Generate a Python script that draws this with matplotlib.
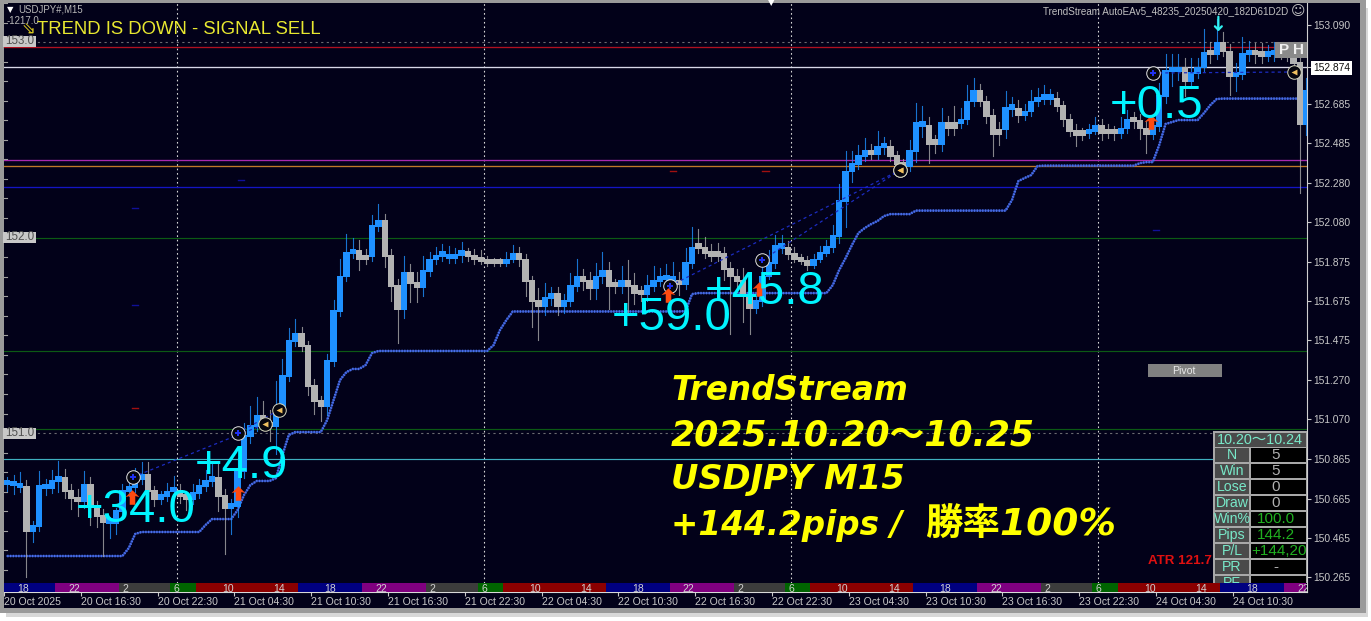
import matplotlib
matplotlib.use("Agg")
import matplotlib.pyplot as plt
from matplotlib.patches import Rectangle
from matplotlib.path import Path
from matplotlib.transforms import Affine2D

# ---------- data (prices, one value every two M15 bars) ----------
CLOSES = [
150.744,150.739,150.729,150.504,150.530,150.734,150.724,150.760,150.775,150.709,
150.673,150.657,150.744,150.632,150.581,150.550,150.545,150.606,150.709,150.729,
150.770,150.791,150.709,150.668,150.683,150.704,150.709,150.683,150.668,150.698,
150.734,150.760,150.775,150.683,150.622,150.632,150.811,150.990,151.041,151.092,
151.056,151.041,151.128,151.297,151.476,151.512,151.450,151.246,151.169,151.143,
151.374,151.629,151.808,151.926,151.936,151.895,151.911,152.064,152.090,151.911,
151.757,151.640,151.824,151.773,151.752,151.834,151.895,151.911,151.916,151.900,
151.916,151.926,151.911,151.895,151.885,151.875,151.875,151.875,151.895,151.921,
151.895,151.783,151.681,151.655,151.696,151.716,151.655,151.681,151.757,151.808,
151.783,151.747,151.808,151.834,151.757,151.757,151.783,151.757,151.721,151.716,
151.757,151.783,151.793,151.793,151.783,151.767,151.875,151.952,151.952,151.926,
151.911,151.921,151.844,151.808,151.783,151.706,151.645,151.681,151.808,151.875,
151.962,151.952,151.921,151.895,151.885,151.865,151.895,151.926,151.957,152.013,
152.192,152.345,152.381,152.422,152.448,152.432,152.473,152.468,152.422,152.381,
152.371,152.448,152.591,152.576,152.484,152.484,152.591,152.565,152.591,152.611,
152.703,152.755,152.703,152.627,152.535,152.560,152.668,152.663,152.632,152.652,
152.703,152.714,152.719,152.714,152.678,152.611,152.550,152.530,152.540,152.550,
152.576,152.540,152.550,152.540,152.565,152.611,152.601,152.565,152.535,152.576,
152.729,152.857,152.857,152.877,152.806,152.847,152.877,152.949,152.944,153.000,
152.959,152.831,152.842,152.944,152.944,152.944,152.934,152.944,152.949,152.944,
152.934,152.898,152.586,152.755]
WICK_UP_PIPS = [
3,4,6,3,2,7,3,5,8,4, 3,4,6,3,2,3,2,1,3,2, 5,6,6,2,2,4,7,3,2,4, 3,5,7,8,3,3,6,6,10,9,
7,6,14,8,6,7,3,2,3,2, 3,5,8,9,6,5,3,5,8,3, 3,3,8,4,5,7,3,4,5,4, 3,5,2,3,4,2,2,2,3,4,
3,2,2,6,7,3,3,3,6,8, 3,4,6,9,4,3,7,10,6,3, 5,7,5,7,8,4,7,10,9,5, 4,5,3,3,3,6,3,2,5,6,
5,5,3,3,2,2,2,3,3,5, 8,10,6,5,6,3,7,4,3,2, 2,5,10,8,4,4,7,3,8,5, 8,6,3,2,3,3,8,5,4,3,
5,5,6,4,3,2,2,3,2,3, 4,3,3,2,5,4,3,3,3,3, 6,8,8,6,4,7,4,12,5,12, 5,3,5,8,6,5,5,4,5,4,3,3,2,6]
WICK_DN_PIPS = [
4,5,3,24,6,3,4,3,6,4, 6,8,4,10,6,18,8,6,3,3, 3,3,6,4,3,3,3,4,6,3, 3,3,3,8,24,14,6,4,4,3,
4,8,15,4,3,3,3,5,7,8, 5,3,3,3,3,6,3,3,3,6, 8,18,5,10,8,5,3,3,3,3, 3,4,3,3,2,2,2,2,2,2,
4,8,14,18,5,4,5,4,3,3, 5,6,6,4,12,4,4,14,6,4, 4,3,3,3,6,6,3,3,3,3, 3,3,6,30,6,14,14,3,3,2,
3,3,3,2,2,3,2,2,2,3, 4,14,6,3,3,3,3,4,3,3, 3,3,6,6,10,5,4,4,4,3, 3,3,3,4,12,6,5,4,4,3,
3,3,3,3,3,4,3,6,3,3, 2,4,3,4,3,3,4,6,10,3, 3,4,8,5,8,4,3,3,5,3, 3,10,8,3,4,5,4,3,4,3,3,3,36,6]
# trend colour runs, alternating up (blue) / down (grey), counted in candles
TREND_RUNS = [3,1,5,3,1,3,6,2,3,2,4,2,5,2,4,4,5,2,2,3,1,2,7,6,2,4,2,1,3,2,2,2,1,3,5,1,2,9,5,4,9,1,2,3,3,2,1,2,3,4,2,1,5,5,2,3,2,3,5,1,3,1,1,2,3,2,2,4,1]
STOP = ([150.371]*19 + [150.412,150.484] + [150.494]*10 + [150.530,150.560,150.560,150.560,150.560,
  150.606,150.683,150.734,150.755,150.755,150.755,150.770,150.888,150.990] + [151.005]*5 +
  [151.067,151.169,151.271,151.312,151.328,151.328,151.348,151.409] + [151.420]*18 +
  [151.450,151.527,151.578] + [151.622]*27 + [151.624] + [151.711] + [151.716]*21 +
  [151.757,151.834,151.895,151.962,152.023,152.049,152.069,152.085,152.110,152.120,152.120,152.120,152.120] +
  [152.138]*15 + [152.192,152.289,152.305,152.320,152.366] + [152.368]*15 +
  [152.381,152.386,152.386,152.473,152.581,152.591,152.601,152.601,152.601,152.601,152.637,152.678,152.709] +
  [152.711]*14)

LEVELS = {"#b01020":152.975, "#d8d8e8":152.873, "#a828b0":152.396, "#c07828":152.365, "#1414c4":152.258}
GREEN_LEVELS = [152.0, 151.418, 151.022]
CYAN_LEVEL = 150.865
ROUND_LEVELS = [153.0, 151.0]
PRICE_TICKS = [153.090,152.874,152.685,152.485,152.280,152.080,151.875,151.675,151.475,151.270,151.070,150.865,150.665,150.465,150.265]
LAST_PRICE = 152.874
DATE_LABELS = ["20 Oct 2025","20 Oct 16:30","20 Oct 22:30","21 Oct 04:30","21 Oct 10:30","21 Oct 16:30",
  "21 Oct 22:30","22 Oct 04:30","22 Oct 10:30","22 Oct 16:30","22 Oct 22:30","23 Oct 04:30","23 Oct 10:30",
  "23 Oct 16:30","23 Oct 22:30","24 Oct 04:30","24 Oct 10:30"]
DAY_BARS = [54,150,246,342]
SESSION_COLORS = ["#000080","#800080","#3c3c3c","#006400","#8b0000"]
SESSION_LENGTHS = [16] + [20,16,8,32,20]*4 + [7]
SESSION_SEQ = [0] + [1,2,3,4,0]*4 + [1]
SESSION_HOURS = ["18","22","2","6","10","14"]
ENTRIES = [(40.3,150.775),(73,151.0),(208,151.752),(237,151.885),(359,152.842)]
EXITS = [(81.6,151.046),(86,151.118),(280,152.345),(280,152.345),(403,152.847)]
ARROW_MID = [(40,150.674),(73,150.694),(207.5,151.706),(236,151.737),(358.5,152.591)]
BLUE_DASHES = [(41,152.15),(41,151.655),(74,152.295),(360,152.04)]
RED_DASHES = [(41,151.13),(209,152.34),(238,152.34)]
RESULTS = ["+34.0","+4.9","+59.0","+45.8","+0.5"]
STATS = [("N","5"),("Win","5"),("Lose","0"),("Draw","0"),("Win%","100.0"),("Pips","144.2"),("P/L","+144,200"),("PR","-"),("PF","")]
YELLOW_LINES = ["TrendStream","2025.10.20～10.25","USDJPY M15","+144.2pips /","勝率100%"]

# ---------- figure ----------
W, H = 1371, 621
fig = plt.figure(figsize=(W/100, H/100), dpi=100, facecolor="white")
px = Affine2D().scale(1, -1).translate(0, H)
SANS = ["Liberation Sans", "DejaVu Sans"]

def rect(x0, y0, x1, y1, color, z=0, **kw):
    fig.add_artist(Rectangle((x0, y0), x1-x0, y1-y0, transform=px, facecolor=color, edgecolor="none", zorder=z, **kw))
def label(x, y, s, **kw):
    kw.setdefault("family", SANS); kw.setdefault("zorder", 20)
    return fig.text(x, y, s, transform=px, **kw)

rect(6, 8, 1368, 617, "#d8d8d8", z=-5)
rect(0, 0, 1366, 613, "#9a9a9a", z=-4)
rect(4, 3, 1360, 608, "#020119", z=-3)

ax = fig.add_axes([4/W, (H-592)/H, (1307-4)/W, (592-3)/H], facecolor="#020119")
ax.set_xlim(0, 407.2); ax.set_ylim(150.187, 153.2)

for b in DAY_BARS:
    ax.axvline(b, color="#d8d8d8", lw=0.8, ls=(0,(1.5,2.5)), zorder=1)
for v in ROUND_LEVELS:
    ax.axhline(v, color="#6a6a70", lw=0.8, ls=(0,(2,3)), zorder=1)
for c, v in LEVELS.items():
    ax.axhline(v, color=c, lw=0.95, zorder=1)
for v in GREEN_LEVELS:
    ax.axhline(v, color="#0c5a14", lw=0.85, zorder=1)
ax.axhline(CYAN_LEVEL, color="#3fb0c0", lw=0.85, zorder=1)

# left-edge ticks
for i in range(0, 31):
    ax.plot([0, 0.9], [150.2+0.1*i]*2, color="#a0a0a0", lw=0.8, zorder=2)

# trailing stop
xs = [2*i+1 for i in range(len(STOP))]
ax.plot(xs, STOP, color="#2a44a8", lw=1.3, zorder=2)
ax.plot(xs, STOP, color="#4a70ea", lw=1.8, ls=(0,(0.55,0.55)), zorder=2)

# candles
flags = []
up = True
for n in TREND_RUNS:
    flags += [up]*n
    up = not up
flags += [flags[-1]]*(len(CLOSES)-len(flags))
prev = CLOSES[0]
for i, c in enumerate(CLOSES):
    o = prev; prev = c
    x = 2*i+1
    col = "#1e90ff" if flags[i] else "#b2b2b2"
    hi = max(o, c) + WICK_UP_PIPS[i]/100
    lo = min(o, c) - WICK_DN_PIPS[i]/100
    ax.plot([x, x], [lo, hi], color=col if flags[i] else "#a8a8a8", lw=0.8, zorder=3, alpha=.8)
    bot = min(o, c); h = max(abs(c-o), 0.02)
    ax.bar(x, h+0.006, width=2.02, bottom=bot-0.008, color=col, linewidth=0, zorder=4)

# small dashes
for x, p in BLUE_DASHES:
    ax.plot([x-1, x+1], [p, p], color="#101098", lw=1, zorder=2)
for x, p in RED_DASHES:
    ax.plot([x-1, x+1], [p, p], color="#a01010", lw=1, zorder=2)

# trades
for (x0, p0), (x1, p1) in zip(ENTRIES, EXITS):
    ax.plot([x0, x1], [p0, p1], color="#1c2cc0", lw=0.9, ls=(0,(2.5,2.5)), zorder=5)
ax.scatter(*zip(*ENTRIES), s=95, facecolor="#06060f", edgecolor="#e0e0e0", linewidths=0.7, zorder=6)
ax.scatter(*zip(*ENTRIES), s=18, color="#2030f0", marker="P", linewidths=0, zorder=7)
ax.scatter(*zip(*EXITS), s=95, facecolor="#06060f", edgecolor="#d8d8c0", linewidths=0.7, zorder=6)
ax.scatter(*zip(*EXITS), s=18, color="#f0c060", marker="<", linewidths=0, zorder=7)
UP_MARK = Path([(0,1),(0.95,0.05),(0.38,0.2),(0.38,-1),(-0.38,-1),(-0.38,0.2),(-0.95,0.05),(0,1)], closed=True)
ax.scatter(*zip(*ARROW_MID), s=110, marker=UP_MARK, color="#ff4a10", linewidths=0, zorder=8)
ax.annotate("", xy=(379.5, 153.055), xytext=(379.5, 153.13), zorder=8,
            arrowprops=dict(arrowstyle="->,head_width=0.25,head_length=0.25", color="#30f0f0", lw=1.6, shrinkA=0, shrinkB=0))

# sessions
start = 0
for n, s in zip(SESSION_LENGTHS, SESSION_SEQ):
    ax.broken_barh([(start, n)], (150.187, 0.047), facecolor=SESSION_COLORS[s], zorder=15)
    start += n
for k in range(26):
    ax.text(6+16*k, 150.2, SESSION_HOURS[k % 6], color="#d0d0d0", fontsize=7.5, family=SANS, ha="center",
            va="center", zorder=16, clip_on=True)

# axes
for s in ["top", "left"]:
    ax.spines[s].set_visible(False)
ax.spines["right"].set_color("#d0d0d0"); ax.spines["bottom"].set_color("#d8d8d8")
ax.yaxis.tick_right()
ax.set_yticks(PRICE_TICKS)
ax.set_yticklabels(["%.3f" % v for v in PRICE_TICKS], family=SANS, fontsize=7.4, color="#c8c8c8")
ax.tick_params(axis="y", length=3, width=0.8, color="#c8c8c8", pad=1.4)
ax.set_xticks([24*i for i in range(len(DATE_LABELS))])
ax.set_xticklabels(DATE_LABELS, family=SANS, fontsize=7.6, color="#c8c8c8", ha="left")
ax.tick_params(axis="x", length=3, width=0.8, color="#c8c8c8", pad=0.8)
for t, v in zip(ax.get_yticklabels(), PRICE_TICKS):
    if v == LAST_PRICE:
        t.set_color("#101010")
        t.set_bbox(dict(facecolor="white", edgecolor="none", pad=1.5))

# left round-number boxes
for y, s in [(41.5, "153.0"), (237.5, "152.0"), (433, "151.0")]:
    rect(3, y-5.5, 36, y+5.5, "#c8c8c8", z=12)
    label(5, y, s, fontsize=8.4, color="#505050", va="center")

# header texts
label(10, 10, "▼", fontsize=6, color="white", ha="center", va="center", family="DejaVu Sans")
label(18, 10, "USDJPY#,M15", fontsize=6.9, color="#b8b8b8", va="center")
label(7, 20.5, "-1217.0", fontsize=7, color="#b8b8b8", va="center")
label(28, 30, "⇘", fontsize=12, color="#d8c820", ha="center", va="center", family="DejaVu Sans")
label(37, 29, "TREND IS DOWN - SIGNAL SELL", fontsize=13.3, color="#e8e830", va="center")
label(1288, 11, "TrendStream AutoEAv5_48235_20250420_182D61D2D", fontsize=7.1, color="#c0c0c0", ha="right", va="center")
label(1298, 11, "☺", fontsize=10, color="#c0c0c0", ha="center", va="center", family="DejaVu Sans")
label(771, 2.5, "▼", fontsize=6, color="white", ha="center", va="center", family="DejaVu Sans")
label(1218, 52, "", fontsize=1)

# result labels
for s, x, y in zip(RESULTS, [76, 195, 612, 705, 1110], [522, 478, 330, 304, 118]):
    label(x, y, s, fontsize=34, color="#00f4ff", va="baseline", zorder=18)

# yellow block
for s, x, y, fs in zip(YELLOW_LINES, [671, 671, 671, 671, 925], [390, 435, 480, 525, 525], [23.5, 25, 24.3, 23.5, 27]):
    label(x, y, s, fontsize=fs, color="#ffff00", style="oblique", weight="bold", va="center",
          family=["DejaVu Sans", "Noto Sans CJK JP"], zorder=18)

# pivot, P H
rect(1148, 364, 1222, 377, "#808080", z=12)
label(1184, 370.5, "Pivot", fontsize=7.6, color="#e8e8e8", ha="center", va="center")
rect(1275, 42, 1307, 58, "#8a8a8a", z=12)
label(1284, 50, "P", fontsize=11, color="#f0f0f0", ha="center", va="center", weight="bold", zorder=13)
label(1299, 50, "H", fontsize=11, color="#f0f0f0", ha="center", va="center", weight="bold", zorder=13)

# stats table
label(1148, 561, "ATR 121.7", fontsize=9.6, color="#e01010", weight="bold", va="center", zorder=11)
rect(1213, 431, 1307, 583, "#a8a8a8", z=12)
rect(1215, 433, 1306, 447, "#4a4a4a", z=13)
label(1260, 439.5, "10.20～10.24", fontsize=10.4, color="#78e8c8", ha="center", va="center",
      family=["Liberation Sans", "Noto Sans CJK JP"], zorder=14)
for r, (name, val) in enumerate(STATS):
    y0 = 448 + 16*r
    y1 = min(y0 + 14, 583)
    rect(1215, y0, 1249, y1, "#4a4a4a", z=13)
    rect(1251, y0, 1306, y1, "#000000", z=13)
    tn = label(1232, y0+7, name, fontsize=10.2, color="#78e8c8", ha="center", va="center", zorder=14)
    col = "#20b020" if name in ("Win%", "Pips", "P/L") else "#b0b0b0"
    if name == "P/L":
        tv = label(1251, y0+7, val, fontsize=11, color=col, ha="left", va="center", zorder=14)
    else:
        tv = label(1276, y0+7, val, fontsize=11, color=col, ha="center", va="center", zorder=14)
    tv.set_clip_path(Rectangle((1250, y0), 56, y1-y0, transform=px)); tv.set_clip_on(True)
    tn.set_clip_path(Rectangle((1213, y0), 37, y1-y0, transform=px)); tn.set_clip_on(True)

fig.savefig("out.png", dpi=100, facecolor="white")
